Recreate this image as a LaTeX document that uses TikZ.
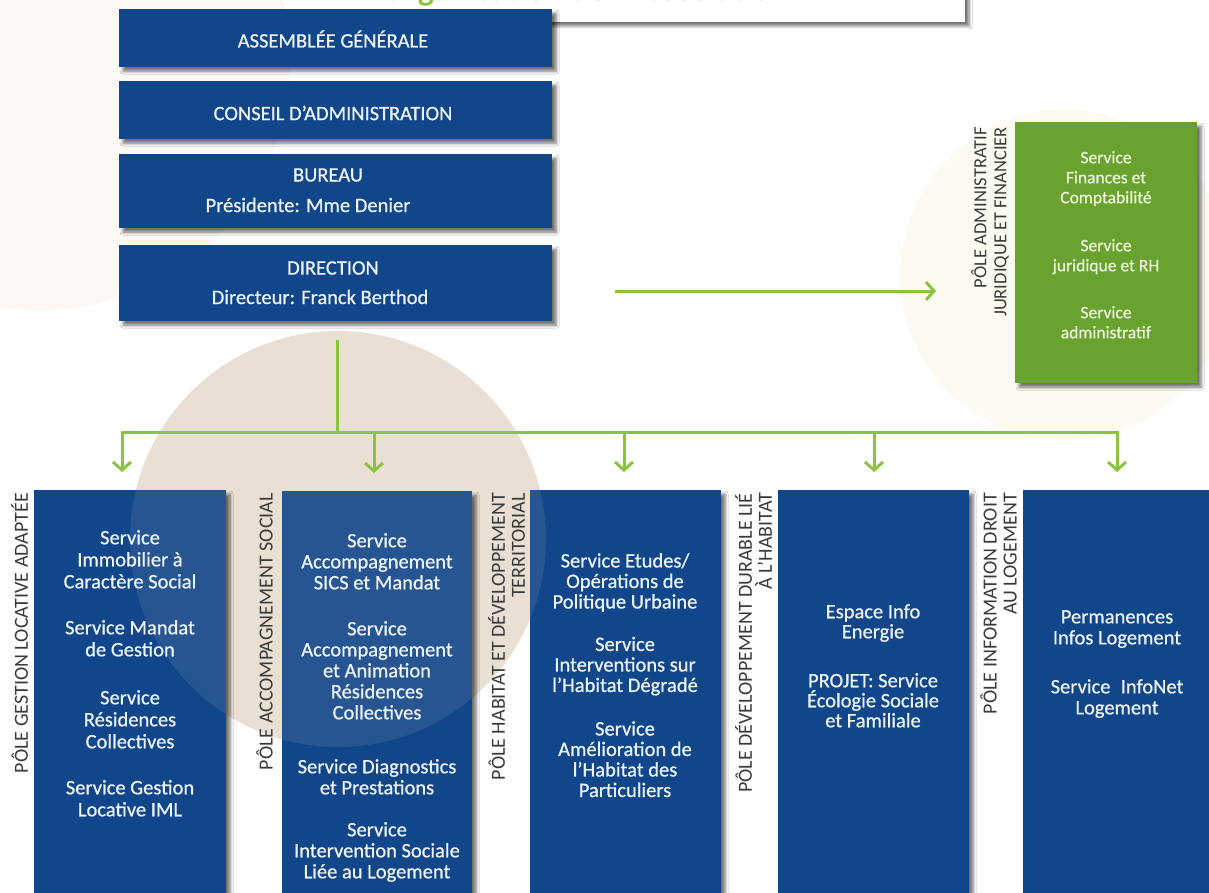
\documentclass[tikz,border=0pt]{standalone}
\usepackage{fontspec}
\setmainfont{Carlito}
\newfontfamily\semib[FakeBold=0.7]{Carlito}
\usetikzlibrary{arrows.meta,shadows.blur,calc}
\definecolor{navy}{HTML}{11468A}
\definecolor{gbox}{HTML}{6AA22F}
\definecolor{lgreen}{HTML}{8BC43F}
\definecolor{tanc}{HTML}{EADFD3}
\definecolor{faint}{HTML}{FCF8F3}
\definecolor{faintg}{HTML}{FCFAF1}
\definecolor{labgray}{HTML}{3A3A3A}
\definecolor{boxtxt}{HTML}{EEF3FA}
\definecolor{gtxt}{HTML}{ECF7DC}
\begin{document}
\begin{tikzpicture}[x=1pt,y=-1pt,
  shad/.style={blur shadow={shadow xshift=4pt,shadow yshift=-4pt,shadow blur steps=6,shadow blur radius=3pt,shadow opacity=55}},
  topbox/.style={fill=navy,shad,minimum width=433pt,anchor=north west,inner sep=0pt},
  colbox/.style={fill=navy,shad,anchor=north west,inner sep=0pt,minimum height=410pt},
  toptxt/.style={text=boxtxt,font=\semib\fontsize{20.5}{22}\selectfont,inner sep=0pt},
  coltxt/.style={text=boxtxt,align=center,anchor=north,inner sep=0pt},
  pole/.style={rotate=90,anchor=north east,align=right,text=labgray,inner sep=0pt,font=\fontsize{20}{20}\selectfont},
  conn/.style={draw=lgreen,line width=3pt},
  arr/.style={conn,-{Straight Barb[length=8pt,width=18pt]}}
]
\useasboundingbox (0,0) rectangle (1209,893);
\fill[white] (0,0) rectangle (1209,893);
% background circles
\fill[faint] (40,60) circle[radius=250pt];
\fill[faintg] (1065,275) circle[radius=165pt];
\fill[tanc] (338,539) circle[radius=208pt];

% title box (cut at top)
\fill[white,shad] (360,-20) rectangle (965,22);
\begin{scope}
\clip (360,0) rectangle (965,22);
\node[anchor=base west,inner sep=0pt,text=lgreen,font=\bfseries\fontsize{34}{34}\selectfont] (title) at (383,1) {Organisation de l’Association};
\end{scope}

% top boxes
\node[topbox,minimum height=58pt] (ag) at (119,9) {};
\node[topbox,minimum height=58pt] (ca) at (119,81) {};
\node[topbox,minimum height=74pt] (bur) at (119,154) {};
\node[topbox,minimum height=76pt] (dir) at (119,245) {};
\node[toptxt] (agt) at (333,39) {ASSEMBLÉE GÉNÉRALE};
\node[toptxt] (cat) at (333,113) {CONSEIL D’ADMINISTRATION};
\node[toptxt] (burt) at (328,175) {BUREAU};
\node[toptxt] (pres) at (308,205) {Présidente: Mme Denier};
\node[toptxt] (dirt) at (333,268) {DIRECTION};
\node[toptxt] (dird) at (320,297) {Directeur: Franck Berthod};

% green box
\node[fill=gbox,shad,anchor=north west,inner sep=0pt,minimum width=182pt,minimum height=261pt] (adm) at (1015,122) {};
\node[coltxt,text=gtxt,font=\semib\fontsize{17.5}{20}\selectfont] (admt) at (1106,151) {Service\\Finances et\\Comptabilité\\[28pt]Service\\juridique et RH\\[27pt]Service\\administratif};
\node[pole,font=\fontsize{18.5}{20}\selectfont] (admp) at (971,127) {PÔLE ADMINISTRATIF\\JURIDIQUE ET FINANCIER};

% columns
\node[colbox,minimum width=192pt] (c1) at (34,490) {};
\node[colbox,minimum width=190pt] (c2) at (282,491) {};
\node[colbox,minimum width=191pt] (c3) at (530,490) {};
\node[colbox,minimum width=191pt] (c4) at (778,490) {};
\node[colbox,minimum width=200pt] (c5) at (1023,490) {};
% lighter part inside the circle
\begin{scope}
\clip (338,539) circle[radius=208pt];
\fill[tanc,opacity=0.1] (34,490) rectangle (226,900);
\fill[tanc,opacity=0.1] (282,491) rectangle (472,900);
\fill[tanc,opacity=0.1] (530,490) rectangle (721,900);
\end{scope}

\node[coltxt,font=\semib\fontsize{20.5}{22}\selectfont] (t1) at (130,530) {Service\\Immobilier à\\Caractère Social\\[24pt]Service Mandat\\de Gestion\\[26pt]Service\\Résidences\\Collectives\\[24pt]Service Gestion\\Locative IML};
\node[coltxt,font=\semib\fontsize{20.5}{21}\selectfont] (t2) at (377,533) {Service\\Accompagnement\\SICS et Mandat\\[25pt]Service\\Accompagnement\\et Animation\\Résidences\\Collectives\\[33pt]Service Diagnostics\\et Prestations\\[21pt]Service\\Intervention Sociale\\Liée au Logement};
\node[coltxt,font=\semib\fontsize{20.5}{20.5}\selectfont] (t3) at (625,553) {Service Etudes/\\Opérations de\\Politique Urbaine\\[22pt]Service\\Interventions sur\\l’Habitat Dégradé\\[23pt]Service\\Amélioration de\\l’Habitat des\\Particuliers};
\node[coltxt,font=\semib\fontsize{20.5}{20}\selectfont] (t4) at (873,604) {Espace Info\\Energie\\[29pt]PROJET: Service\\Écologie Sociale\\et Familiale};
\node[coltxt,font=\semib\fontsize{20.5}{21}\selectfont] (t5) at (1117,610) {Permanences\\Infos Logement\\[28pt]Service\enspace InfoNet\\Logement};

% pole labels
\node[pole] (p1) at (11,493) {PÔLE GESTION LOCATIVE ADAPTÉE};
\node[pole] (p2) at (256,493) {PÔLE ACCOMPAGNEMENT SOCIAL};
\node[pole] (p3) at (488,493) {PÔLE HABITAT ET DÉVELOPPEMENT\\TERRITORIAL};
\node[pole] (p4) at (735,493) {PÔLE DÉVELOPPEMENT DURABLE LIÉ\\À L’HABITAT};
\node[pole] (p5) at (980,493) {PÔLE INFORMATION DROIT\\AU LOGEMENT};

% connectors
\coordinate (vtop) at (337,340);
\coordinate (bus) at (337,432);
\coordinate (b1) at (122,432);
\coordinate (b2) at (374,432);
\coordinate (b3) at (624,432);
\coordinate (b4) at (874,432);
\coordinate (b5) at (1117,432);
\coordinate (h1) at (615,291);
\coordinate (h2) at (936,291);
\draw[conn] (vtop) -- (bus);
\draw[conn] ([xshift=-1.5pt]b1) -- ([xshift=1.5pt]b5);
\draw[arr] (b1) -- ($(b1 |- c1.north)+(0,-18)$);
\draw[arr] (b2) -- ($(b2 |- c2.north)+(0,-18)$);
\draw[arr] (b3) -- ($(b3 |- c3.north)+(0,-18)$);
\draw[arr] (b4) -- ($(b4 |- c4.north)+(0,-18)$);
\draw[arr] (b5) -- ($(b5 |- c5.north)+(0,-18)$);
\draw[arr] (h1) -- (h2);
\end{tikzpicture}
\end{document}
